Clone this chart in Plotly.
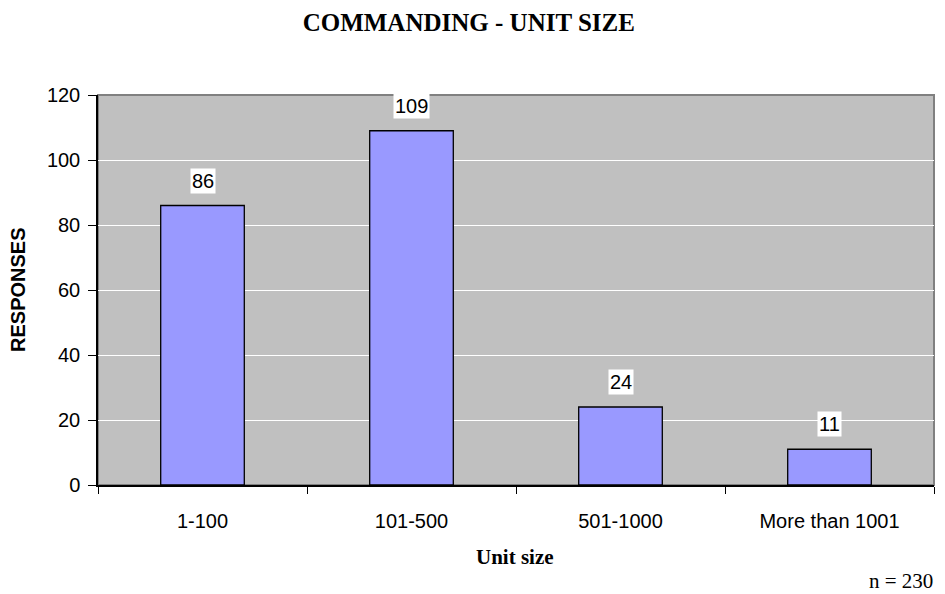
import plotly.graph_objects as go

categories = ["1-100", "101-500", "501-1000", "More than 1001"]
responses = [86, 109, 24, 11]
y_ticks = [0, 20, 40, 60, 80, 100, 120]

SANS = "Liberation Sans, Arial"
SERIF = "Liberation Serif, Times New Roman"

fig = go.Figure()
fig.add_trace(go.Bar(
    x=categories, y=responses,
    marker=dict(color="#9999FF", line=dict(color="black", width=1.3)),
    width=0.4,
    hoverinfo="x+y",
))

# value labels on white boxes
for c, v in zip(categories, responses):
    fig.add_annotation(
        x=c, y=v, text=str(v), showarrow=False,
        yanchor="middle", yshift=25,
        bgcolor="white", borderpad=1,
        font=dict(family=SANS, size=20, color="black"),
    )

# gray frame on top/right of plot area
fig.add_shape(type="rect", xref="paper", yref="paper", x0=0, x1=1, y0=0, y1=1,
              line=dict(color="#808080", width=2), layer="below")

# axis titles and note
fig.add_annotation(text="<b>Unit size</b>", xref="paper", yref="paper", x=0.499, y=-0.185,
                   xanchor="center", yanchor="middle", showarrow=False,
                   font=dict(family=SERIF, size=21, color="black"))
fig.add_annotation(text="<b>RESPONSES</b>", xref="paper", yref="paper", x=-0.0957, y=0.5,
                   xanchor="center", yanchor="middle", showarrow=False, textangle=-90,
                   font=dict(family=SANS, size=20, color="black"))
fig.add_annotation(text="n = 230", xref="paper", yref="paper", x=1.001, y=-0.247,
                   xanchor="right", yanchor="middle", showarrow=False,
                   font=dict(family=SERIF, size=21, color="black"))

fig.update_layout(
    width=929, height=586,
    paper_bgcolor="white", plot_bgcolor="#C0C0C0",
    margin=dict(l=90, r=3, t=87, b=109, autoexpand=False),
    showlegend=False,
    title=dict(
        text="<b>COMMANDING - UNIT SIZE</b>", x=0.496, xanchor="center", y=0.975, yanchor="middle",
        font=dict(family=SERIF, size=25, color="black"),
    ),
    font=dict(family=SANS, size=20, color="black"),
)
fig.update_xaxes(
    type="category", showgrid=False, showline=True, linecolor="black", linewidth=1.5,
    ticks="outside", tickson="boundaries", ticklen=7, tickcolor="black",
    ticklabelstandoff=17, tickfont=dict(size=20),
)
fig.update_yaxes(
    range=[0, 120], tickvals=y_ticks, showgrid=True, gridcolor="white", gridwidth=1,
    showline=True, linecolor="black", linewidth=1.5, zeroline=False,
    ticks="outside", ticklen=8, tickcolor="black",
    ticklabelstandoff=4, tickfont=dict(size=20),
)

fig.write_html("out.html")
